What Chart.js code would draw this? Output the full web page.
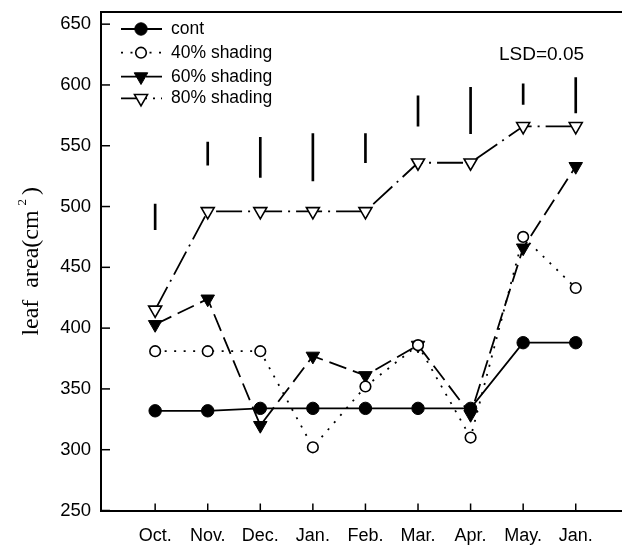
<!DOCTYPE html>
<html>
<head>
<meta charset="utf-8">
<script src="https://cdn.jsdelivr.net/npm/chart.js@4.4.1/dist/chart.umd.min.js"></script>
<style>
  html, body { margin: 0; padding: 0; background: #fff; overflow: hidden; }
  #wrap { width: 622px; height: 545px; position: relative; }
</style>
</head>
<body>
<div id="wrap"><canvas id="chart-leaf"></canvas></div>
<script>
const months = ['Oct.', 'Nov.', 'Dec.', 'Jan.', 'Feb.', 'Mar.', 'Apr.', 'May.', 'Jan.'];
const series = ['cont', '40% shading', '60% shading', '80% shading'];
const cont = [332, 332, 334, 334, 334, 334, 334, 388, 388];
const shade40 = [381, 381, 381, 302, 352, 386, 310, 475, 433];
const shade60 = [403, 424, 320, 377, 361, 386, 329, 466, 533];
const shade80 = [415, 496, 496, 496, 496, 536, 536, 566, 566];
const lsdLow = [481, 534, 524, 521, 536, 566, 560, 584, 577];
const lsdHigh = [502, 553, 557, 560, 560, 591, 598, 601, 606];

const SANS = '"Liberation Sans", Arial, sans-serif';
const SERIF = '"Liberation Serif", "Times New Roman", serif';

function pts(arr) {
  return arr.map((v, i) => ({ x: i, y: v }));
}

function noPad(s) {
  s.paddingLeft = 0;
  s.paddingRight = 0;
  s.paddingTop = 0;
  s.paddingBottom = 0;
}

// inward ticks, top frame line, legend, LSD label, y title
const decorPlugin = {
  id: 'decor',
  afterDraw(chart) {
    const ctx = chart.ctx;
    const a = chart.chartArea;
    const xs = chart.scales.x;
    const ys = chart.scales.y;

    ctx.save();
    ctx.strokeStyle = '#000';
    ctx.lineWidth = 2;
    ctx.beginPath();
    ctx.moveTo(a.left - 1, a.top);
    ctx.lineTo(a.right + 2, a.top);
    ctx.stroke();

    ctx.lineWidth = 1.5;
    ys.ticks.forEach(t => {
      const y = ys.getPixelForValue(t.value);
      ctx.beginPath();
      ctx.moveTo(a.left, y);
      ctx.lineTo(a.left + 9, y);
      ctx.stroke();
    });
    months.forEach((m, i) => {
      const x = xs.getPixelForValue(i);
      ctx.beginPath();
      ctx.moveTo(x, a.bottom);
      ctx.lineTo(x, a.bottom - 7);
      ctx.stroke();
    });

    // legend
    const rows = [17, 40.7, 64.7, 86.3];
    chart.data.datasets.forEach((ds, i) => {
      if (ds.type === 'bar') return;
      const y = a.top + rows[i];
      ctx.save();
      ctx.strokeStyle = '#000';
      ctx.lineWidth = ds.borderWidth;
      ctx.setLineDash(ds.borderDash || []);
      ctx.beginPath();
      ctx.moveTo(a.left + 20, y);
      ctx.lineTo(a.left + 61, y);
      ctx.stroke();
      ctx.setLineDash([]);
      ctx.fillStyle = ds.pointBackgroundColor;
      ctx.lineWidth = ds.pointBorderWidth;
      Chart.helpers.drawPoint(ctx, {
        pointStyle: ds.pointStyle,
        rotation: ds.pointRotation || 0,
        radius: ds.pointRadius,
        borderWidth: ds.pointBorderWidth
      }, a.left + 40, y);
      ctx.restore();
      ctx.fillStyle = '#000';
      ctx.font = '17.5px ' + SANS;
      ctx.textAlign = 'left';
      ctx.textBaseline = 'middle';
      ctx.fillText(ds.label, a.left + 70, y);
    });

    ctx.font = '19px ' + SANS;
    ctx.fillStyle = '#000';
    ctx.textAlign = 'left';
    ctx.textBaseline = 'alphabetic';
    ctx.fillText('LSD=0.05', 499, 60);

    // y axis title with superscript
    ctx.translate(38, (a.top + a.bottom) / 2);
    ctx.rotate(-Math.PI / 2);
    const main = 'leaf  area(cm';
    ctx.font = '24px ' + SERIF;
    const w1 = ctx.measureText(main).width;
    const wClose = ctx.measureText(')').width;
    ctx.font = '13px ' + SERIF;
    const w2 = ctx.measureText('2').width;
    const total = w1 + 5 + w2 + 4 + wClose;
    const x0 = -total / 2;
    ctx.font = '24px ' + SERIF;
    ctx.fillText(main, x0, 0);
    ctx.font = '13px ' + SERIF;
    ctx.fillText('2', x0 + w1 + 5, -12.5);
    ctx.font = '24px ' + SERIF;
    ctx.fillText(')', x0 + w1 + 5 + w2 + 4, 0);
    ctx.restore();
  }
};

const ctx = document.getElementById('chart-leaf').getContext('2d');
const chart = new Chart(ctx, {
  type: 'line',
  data: {
    datasets: [
      {
        label: series[0],
        data: pts(cont),
        borderColor: '#000',
        borderWidth: 1.8,
        pointStyle: 'circle',
        pointRadius: 6.2,
        pointBackgroundColor: '#000',
        pointBorderColor: '#000',
        pointBorderWidth: 1
      },
      {
        label: series[1],
        data: pts(shade40),
        borderColor: '#000',
        borderWidth: 1.8,
        borderDash: [2, 7.5],
        pointStyle: 'circle',
        pointRadius: 5.3,
        pointBackgroundColor: '#fff',
        pointBorderColor: '#000',
        pointBorderWidth: 1.6
      },
      {
        label: series[2],
        data: pts(shade60),
        borderColor: '#000',
        borderWidth: 1.8,
        borderDash: [18, 7],
        pointStyle: 'triangle',
        pointRotation: 180,
        pointRadius: 7.8,
        pointBackgroundColor: '#000',
        pointBorderColor: '#000',
        pointBorderWidth: 1
      },
      {
        label: series[3],
        data: pts(shade80),
        borderColor: '#000',
        borderWidth: 1.8,
        borderDash: [26, 6, 2, 6],
        pointStyle: 'triangle',
        pointRotation: 180,
        pointRadius: 7.5,
        pointBackgroundColor: '#fff',
        pointBorderColor: '#000',
        pointBorderWidth: 1.6
      },
      {
        type: 'bar',
        label: 'LSD',
        data: lsdLow.map((lo, i) => ({ x: i, y: [lo, lsdHigh[i]] })),
        backgroundColor: '#000',
        borderWidth: 0,
        barThickness: 2
      }
    ]
  },
  options: {
    responsive: true,
    maintainAspectRatio: false,
    animation: false,
    devicePixelRatio: 1,
    layout: { autoPadding: false, padding: { top: 12, left: 0, right: 0, bottom: 0 } },
    plugins: {
      legend: { display: false },
      tooltip: { enabled: false }
    },
    scales: {
      x: {
        type: 'linear',
        offset: false,
        min: -1.03,
        max: 8.88,
        grid: { display: false, drawTicks: false },
        border: { display: true, color: '#000', width: 2 },
        ticks: {
          stepSize: 1,
          includeBounds: false,
          autoSkip: false,
          maxRotation: 0,
          padding: 15,
          color: '#000',
          font: { family: SANS, size: 18 },
          callback: v => months[v] || ''
        },
        afterFit: s => { s.height = 34.5; noPad(s); }
      },
      y: {
        min: 250,
        max: 660,
        grid: { display: false, drawTicks: false },
        border: { display: true, color: '#000', width: 2 },
        ticks: {
          stepSize: 50,
          includeBounds: false,
          padding: 10,
          color: '#000',
          font: { family: SANS, size: 18.5 }
        },
        afterFit: s => { s.width = 101; noPad(s); }
      }
    }
  },
  plugins: [decorPlugin]
});
</script>
</body>
</html>
